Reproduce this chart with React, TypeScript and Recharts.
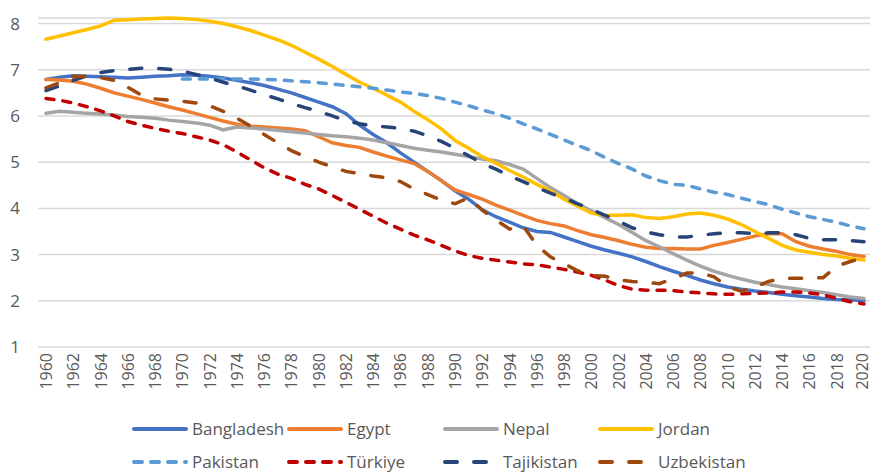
import { LineChart, Line, XAxis, YAxis, CartesianGrid } from 'recharts';

const years = Array.from({ length: 61 }, (_, i) => 1960 + i);

const bangladesh = [
  6.79, 6.84, 6.87, 6.86, 6.85, 6.84, 6.82, 6.84, 6.86, 6.87,
  6.89, 6.88, 6.86, 6.82, 6.77, 6.72, 6.66, 6.58, 6.5, 6.4,
  6.3, 6.2, 6.05, 5.8, 5.6, 5.42, 5.2, 5.0, 4.8, 4.6,
  4.38, 4.2, 3.97, 3.82, 3.7, 3.58, 3.5, 3.48, 3.38, 3.28,
  3.18, 3.1, 3.03, 2.95, 2.85, 2.74, 2.64, 2.55, 2.45, 2.37,
  2.3, 2.25, 2.21, 2.18, 2.14, 2.11, 2.08, 2.05, 2.03, 2.02, 2.0,
];
const egypt = [
  6.79, 6.78, 6.75, 6.69, 6.6, 6.5, 6.43, 6.36, 6.28, 6.2,
  6.13, 6.05, 5.97, 5.89, 5.82, 5.78, 5.76, 5.74, 5.72, 5.68,
  5.55, 5.42, 5.36, 5.32, 5.22, 5.13, 5.05, 4.97, 4.8, 4.6,
  4.4, 4.3, 4.2, 4.07, 3.96, 3.85, 3.74, 3.67, 3.62, 3.52,
  3.43, 3.37, 3.3, 3.22, 3.16, 3.13, 3.13, 3.12, 3.12, 3.2,
  3.26, 3.33, 3.4, 3.45, 3.45, 3.28, 3.18, 3.12, 3.07, 3.0, 2.96,
];
const nepal = [
  6.06, 6.1, 6.08, 6.06, 6.04, 6.02, 5.99, 5.97, 5.95, 5.91,
  5.88, 5.85, 5.8, 5.7, 5.76, 5.74, 5.72, 5.69, 5.66, 5.63,
  5.6, 5.57, 5.55, 5.52, 5.48, 5.42, 5.36, 5.3, 5.26, 5.22,
  5.17, 5.12, 5.07, 5.03, 4.95, 4.85, 4.65, 4.45, 4.28, 4.1,
  3.95, 3.8, 3.65, 3.48, 3.3, 3.17, 3.02, 2.88, 2.75, 2.64,
  2.55, 2.47, 2.4, 2.35, 2.3, 2.26, 2.22, 2.18, 2.13, 2.08, 2.05,
];
const jordan = [
  7.66, 7.73, 7.8, 7.87, 7.95, 8.07, 8.08, 8.1, 8.11, 8.12,
  8.11, 8.09, 8.05, 8.0, 7.93, 7.85, 7.75, 7.65, 7.53, 7.38,
  7.23, 7.07, 6.9, 6.73, 6.6, 6.45, 6.3, 6.1, 5.92, 5.72,
  5.47, 5.3, 5.12, 4.98, 4.82, 4.68, 4.52, 4.38, 4.2, 4.05,
  3.9, 3.85, 3.85, 3.86, 3.8, 3.78, 3.82, 3.88, 3.9, 3.85,
  3.77, 3.65, 3.5, 3.35, 3.2, 3.1, 3.05, 3.0, 2.97, 2.92, 2.88,
];
const pakistan = [
  null, null, null, null, null, null, null, null, null, null,
  6.8, 6.8, 6.8, 6.8, 6.8, 6.8, 6.79, 6.78, 6.76, 6.74,
  6.72, 6.69, 6.66, 6.63, 6.6, 6.56, 6.52, 6.49, 6.44, 6.38,
  6.3, 6.22, 6.13, 6.05, 5.95, 5.83, 5.72, 5.6, 5.48, 5.36,
  5.25, 5.1, 4.97, 4.85, 4.7, 4.6, 4.52, 4.5, 4.42, 4.35,
  4.3, 4.22, 4.15, 4.08, 3.98, 3.9, 3.82, 3.76, 3.7, 3.62, 3.56,
];
const turkiye = [
  6.38, 6.34, 6.28, 6.2, 6.11, 6.0, 5.88, 5.8, 5.73, 5.67,
  5.62, 5.55, 5.48, 5.38, 5.22, 5.05, 4.88, 4.74, 4.65, 4.52,
  4.42, 4.28, 4.13, 3.98, 3.83, 3.68, 3.55, 3.42, 3.32, 3.2,
  3.08, 2.98, 2.92, 2.88, 2.84, 2.8, 2.78, 2.73, 2.68, 2.62,
  2.55, 2.45, 2.33, 2.25, 2.23, 2.23, 2.22, 2.19, 2.17, 2.15,
  2.14, 2.15, 2.16, 2.17, 2.19, 2.19, 2.17, 2.13, 2.05, 1.98, 1.93,
];
const tajikistan = [
  6.55, 6.65, 6.77, 6.87, 6.94, 6.98, 7.01, 7.03, 7.03, 7.01,
  6.97, 6.9, 6.82, 6.73, 6.65, 6.56, 6.46, 6.37, 6.27, 6.18,
  6.1, 6.0, 5.9, 5.83, 5.79, 5.76, 5.73, 5.67, 5.57, 5.45,
  5.3, 5.14, 4.97, 4.85, 4.7, 4.58, 4.45, 4.33, 4.22, 4.1,
  3.98, 3.85, 3.72, 3.58, 3.49, 3.43, 3.38, 3.38, 3.42, 3.45,
  3.47, 3.47, 3.46, 3.47, 3.47, 3.43, 3.35, 3.32, 3.32, 3.3, 3.28,
];
const uzbekistan = [
  6.61, 6.72, 6.85, 6.86, 6.83, 6.77, 6.62, 6.45, 6.37, 6.34,
  6.32, 6.28, 6.22, 6.1, 5.95, 5.78, 5.6, 5.42, 5.25, 5.12,
  5.0, 4.9, 4.8, 4.75, 4.7, 4.66, 4.58, 4.42, 4.3, 4.18,
  4.1, 4.23, 3.96, 3.75, 3.55, 3.62, 3.2, 2.95, 2.8, 2.65,
  2.55, 2.53, 2.45, 2.42, 2.4, 2.37, 2.48, 2.6, 2.6, 2.52,
  2.3, 2.21, 2.3, 2.42, 2.48, 2.49, 2.49, 2.5, 2.75, 2.85, 2.93,
];

const yTicks = [1, 2, 3, 4, 5, 6, 7, 8];

const series = [
  { key: 'Bangladesh', values: bangladesh, color: '#4472C4', dash: undefined },
  { key: 'Egypt', values: egypt, color: '#ED7D31', dash: undefined },
  { key: 'Nepal', values: nepal, color: '#A5A5A5', dash: undefined },
  { key: 'Jordan', values: jordan, color: '#FFC000', dash: undefined },
  { key: 'Pakistan', values: pakistan, color: '#5B9BD5', dash: '8 9' },
  { key: 'Türkiye', values: turkiye, color: '#C00000', dash: '8 9' },
  { key: 'Tajikistan', values: tajikistan, color: '#264478', dash: '12 17' },
  { key: 'Uzbekistan', values: uzbekistan, color: '#9E480E', dash: '12 17' },
];

const data = years.map((year, i) => {
  const row: any = { year };
  series.forEach((s) => {
    row[s.key] = s.values[i];
  });
  return row;
});

const FONT = '"Segoe UI", "Open Sans", sans-serif';
const TEXT = '#595959';

// rotated year labels; keep the last one inside the picture
const YearTick = ({ x, y, payload }: any) => {
  const tx = Math.min(x, 862);
  const ty = y + 6;
  return (
    <text
      x={tx}
      y={ty}
      transform={`rotate(-90 ${tx} ${ty})`}
      textAnchor="end"
      dominantBaseline="central"
      fill={TEXT}
      fontSize={16}
      fontFamily={FONT}
    >
      {payload.value}
    </text>
  );
};

const legendCols = [132, 287, 443, 598];
const legendRows = [429, 462];

function ChartLegend() {
  return (
    <>
      {series.map((s, i) => {
        const left = legendCols[i % 4];
        const top = legendRows[Math.floor(i / 4)];
        return (
          <div
            key={s.key}
            style={{
              position: 'absolute',
              left,
              top: top - 10,
              height: 20,
              lineHeight: '20px',
              display: 'flex',
              alignItems: 'center',
              fontFamily: FONT,
              fontSize: 17,
              color: TEXT,
              whiteSpace: 'nowrap',
            }}
          >
            <svg width={56} height={8} style={{ marginRight: 4 }}>
              <line
                x1={2}
                y1={4}
                x2={54}
                y2={4}
                stroke={s.color}
                strokeWidth={4}
                strokeLinecap="round"
                strokeDasharray={s.dash}
              />
            </svg>
            {s.key}
          </div>
        );
      })}
    </>
  );
}

export default function App() {
  return (
    <div style={{ position: 'absolute', left: 0, top: 0, width: 872, height: 474, background: '#fff', overflow: 'hidden' }}>
      <LineChart
        width={872}
        height={407}
        data={data}
        margin={{ top: 18, right: 2, bottom: 0, left: 8 }}
      >
        <CartesianGrid vertical={false} stroke="#D9D9D9" strokeWidth={1.5} />
        <XAxis
          dataKey="year"
          interval={1}
          height={60}
          axisLine={false}
          tickLine={false}
          tickSize={0}
          tickMargin={0}
          padding={{ left: 8, right: 6 }}
          tick={<YearTick />}
        />
        <YAxis
          type="number"
          domain={[1, 8]}
          ticks={yTicks}
          width={30}
          axisLine={false}
          tickLine={false}
          tickSize={0}
          tickMargin={18}
          tick={{ fill: TEXT, fontSize: 17, fontFamily: FONT }}
        />
        {series.map((s) => (
          <Line
            key={s.key}
            type="linear"
            dataKey={s.key}
            stroke={s.color}
            strokeWidth={3.5}
            strokeDasharray={s.dash}
            strokeLinecap="round"
            dot={false}
            activeDot={false}
            isAnimationActive={false}
          />
        ))}
      </LineChart>
      <ChartLegend />
    </div>
  );
}
